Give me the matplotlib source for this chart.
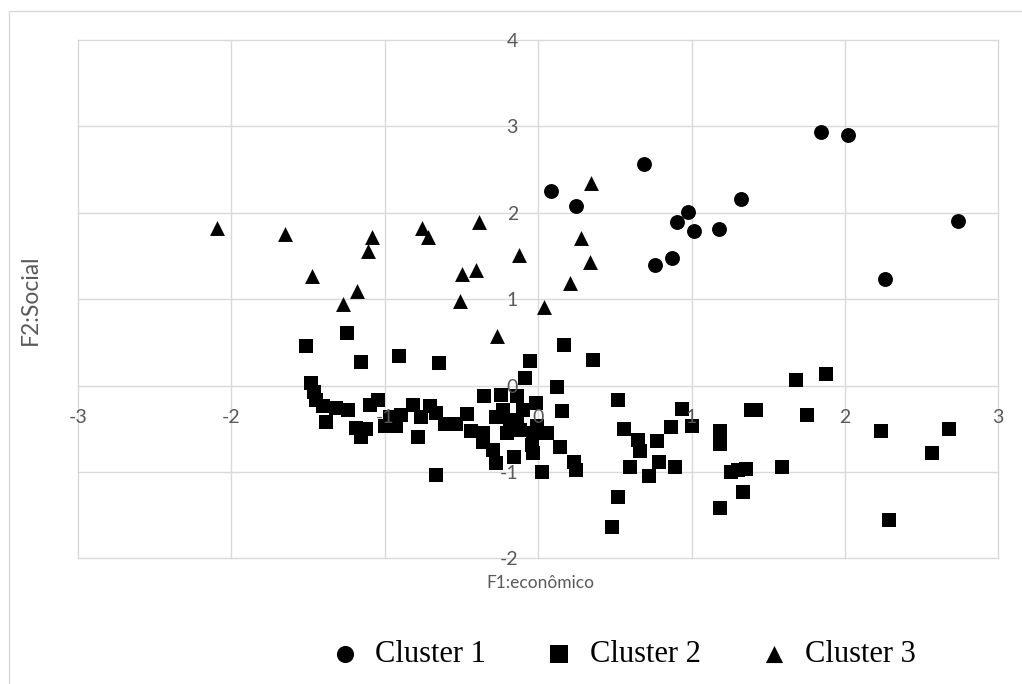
import numpy as np
import matplotlib
matplotlib.use('Agg')
import matplotlib.pyplot as plt
from matplotlib.patches import Rectangle

plt.rcParams['axes.unicode_minus'] = False

# Cluster 1 (circles)
c1_x = [1.843, 2.02, 0.688, 0.087, 0.246, 1.323, 0.979, 0.905, 1.016, 1.181,
        0.871, 0.764, 2.737, 2.261]
c1_y = [2.94, 2.90, 2.57, 2.25, 2.08, 2.16, 2.01, 1.89, 1.79, 1.81,
        1.48, 1.40, 1.90, 1.23]

# Cluster 2 (squares)
c2_x = [-1.516, -1.244, -1.153, -0.909, -0.646, -1.484, -1.458, -1.446, -1.403, -1.381,
        -1.316, -1.240, -1.185, -1.157, -1.125, -1.099, -1.044, -1.0, -0.968, -0.924,
        -0.892, -0.816, -0.761, -0.783, -0.663, -0.707, -0.663, -0.609, -0.533, -0.461,
        -0.435, -0.359, -0.354, -0.239, -0.137, -0.359, -0.272, -0.228, -0.294, -0.272,
        -0.157, -0.141, -0.185, -0.098, -0.12, -0.01, -0.033, 0.055, -0.206, -0.043,
        -0.033, 0.142, 0.026, -0.087, -0.05, -0.015, 0.120, 0.153, 0.168, 0.355,
        0.235, 0.246, 0.518, 0.561, 0.649, 0.664, 0.773, 0.866, 0.940, 1.005,
        0.599, 0.725, 0.790, 0.892, 0.522, 0.483, 1.186, 1.186, 1.39, 1.42,
        1.682, 1.878, 1.752, 1.593, 1.26, 1.30, 1.356, 1.334, 1.186, 2.235,
        2.681, 2.568, 2.287]
c2_y = [0.46, 0.61, 0.27, 0.34, 0.26, 0.03, -0.07, -0.17, -0.23, -0.42,
        -0.26, -0.28, -0.49, -0.59, -0.50, -0.22, -0.17, -0.47, -0.36, -0.47,
        -0.34, -0.22, -0.36, -0.59, -1.03, -0.24, -0.32, -0.44, -0.44, -0.33,
        -0.53, -0.55, -0.12, -0.11, -0.12, -0.65, -0.36, -0.28, -0.74, -0.90,
        -0.83, -0.44, -0.40, -0.28, -0.51, -0.47, -0.55, -0.55, -0.55, -0.69,
        -0.78, -0.71, -1.0, 0.09, 0.28, -0.20, -0.02, -0.29, 0.47, 0.30,
        -0.88, -0.98, -0.17, -0.50, -0.63, -0.76, -0.64, -0.48, -0.27, -0.47,
        -0.94, -1.05, -0.88, -0.94, -1.29, -1.63, -0.52, -0.67, -0.28, -0.28,
        0.07, 0.135, -0.34, -0.94, -1.0, -0.98, -0.97, -1.23, -1.42, -0.53,
        -0.50, -0.78, -1.56]

# Cluster 3 (triangles)
c3_x = [-2.093, -1.649, -1.084, -1.110, -1.475, -1.179, -1.273, -0.755, -0.718, -0.385,
        -0.498, -0.402, -0.124, -0.509, 0.037, 0.342, 0.277, 0.337, 0.211, -0.265]
c3_y = [1.83, 1.76, 1.72, 1.56, 1.27, 1.09, 0.94, 1.82, 1.72, 1.89,
        1.29, 1.34, 1.51, 0.98, 0.91, 2.34, 1.71, 1.43, 1.19, 0.575]

x_ticks = [-3, -2, -1, 0, 1, 2, 3]
y_ticks = [-2, -1, 0, 1, 2, 3, 4]

grid_col = '#d9d9d9'
label_col = '#595959'

fig = plt.figure(figsize=(10.22, 6.84), dpi=100)
ax = fig.add_axes([0.0763, 0.1835, 0.9005, 0.758])

# gridlines behind markers
for t in x_ticks:
    ax.axvline(t, color=grid_col, lw=1.0, zorder=0, clip_on=False)
for t in y_ticks:
    ax.axhline(t, color=grid_col, lw=1.0, zorder=0, clip_on=False)

ms = 115
h1 = ax.scatter(c1_x, c1_y, s=ms, marker='o', color='black', linewidths=0, zorder=2, label='Cluster 1')
h2 = ax.scatter(c2_x, c2_y, s=ms, marker='s', color='black', linewidths=0, zorder=2, label='Cluster 2')
h3 = ax.scatter(c3_x, c3_y, s=ms, marker='^', color='black', linewidths=0, zorder=2, label='Cluster 3')

ax.set_xlim(-3, 3)
ax.set_ylim(-2, 4)
ax.set_xticks(x_ticks)
ax.set_yticks(y_ticks)

# axes cross at zero, Excel style
ax.spines['left'].set_position(('data', 0))
ax.spines['bottom'].set_position(('data', 0))
for s in ax.spines.values():
    s.set_visible(False)
ax.tick_params(axis='both', length=0, labelcolor=label_col, labelsize=14)
ax.tick_params(axis='y', pad=14.5)
ax.tick_params(axis='x', pad=16.5)
for lab in ax.get_xticklabels() + ax.get_yticklabels():
    lab.set_fontfamily('Lato')
ax.xaxis.set_zorder(3)
ax.yaxis.set_zorder(3)

ax.set_xlabel('F1:econômico', fontsize=12.5, color=label_col, fontfamily='Lato')
ax.xaxis.set_label_coords(0.502, -0.047)
ax.xaxis.label.set_va('center')
ax.set_ylabel('F2:Social', fontsize=16.5, color=label_col, fontfamily='Lato')
ax.yaxis.set_label_coords(-0.052, 0.4986)
ax.yaxis.label.set_va('center')

# chart border
fig.patches.append(Rectangle((9 / 1022, -0.2), 1.2, 1.2 - 11 / 684,
                             transform=fig.transFigure, fill=False,
                             edgecolor=grid_col, lw=1.0))

fig.legend(handles=[h1, h2, h3], loc='center', bbox_to_anchor=(624 / 1022, 1 - 655 / 684),
           ncol=3, frameon=False, prop={'family': 'Liberation Serif', 'size': 22},
           handlelength=0.8, handletextpad=0.6, columnspacing=2.0, borderpad=0,
           markerscale=1.15)

fig.savefig('out.png', dpi=100)
